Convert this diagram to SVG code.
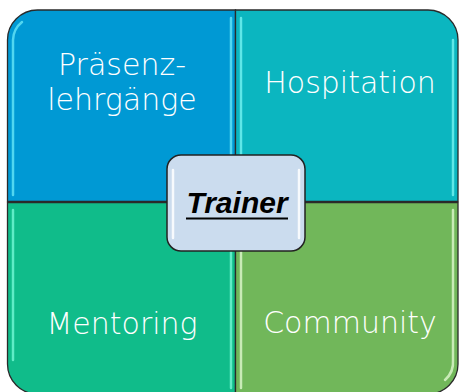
<svg xmlns="http://www.w3.org/2000/svg" width="459" height="392" viewBox="0 0 459 392">
<style>
.q{stroke:#2a2a2a;stroke-width:1.3}
.hl{fill:none;stroke-width:2.5;stroke-linecap:round;opacity:0.85}
.lbl{font-family:"DejaVu Sans","Liberation Sans",sans-serif;font-size:30px;fill:#ffffff;text-anchor:middle;font-weight:300}
.ctr{font-family:"Liberation Sans",Arial,sans-serif;font-size:30px;font-weight:bold;font-style:italic;fill:#000;text-anchor:middle}
</style>
<rect width="459" height="392" fill="#ffffff"/>
<g id="praesenz">
<path class="q" fill="#0099D4" d="M7.5,201.5 V40 A30,30 0 0 1 37.5,10 H235.5 V201.5 Z"/>
<path class="hl" stroke="#5fe0f5" d="M13,195 V40 A24,24 0 0 1 22,22"/>
<path class="hl" stroke="#5fe0f5" d="M231,18 V195"/>
<text class="lbl" x="122" y="75">Präsenz-</text>
<text class="lbl" x="122" y="110">lehrgänge</text>
</g>
<g id="hospitation">
<path class="q" fill="#0BB6C0" d="M235.5,10 H428 A30,30 0 0 1 458,40 V201.5 H235.5 Z"/>
<path class="hl" stroke="#6ff0ee" d="M241,18 V195"/>
<path class="hl" stroke="#6ff0ee" d="M453,40 V195"/>
<text class="lbl" x="350" y="93">Hospitation</text>
</g>
<g id="mentoring">
<path class="q" fill="#10BC8A" d="M7.5,202.5 H235.5 V394 H37.5 A30,30 0 0 1 7.5,364 Z"/>
<path class="hl" stroke="#6ff5d0" d="M13,210 V360"/>
<path class="hl" stroke="#6ff5d0" d="M231,210 V388"/>
<text class="lbl" x="122" y="334">Mentoring</text>
</g>
<g id="community">
<path class="q" fill="#71B75A" d="M235.5,202.5 H458 V364 A30,30 0 0 1 428,394 H235.5 Z"/>
<path class="hl" stroke="#d8f5c8" d="M241,210 V388"/>
<path class="hl" stroke="#d8f5c8" d="M453,210 V360 A24,24 0 0 1 445,380"/>
<text class="lbl" x="350" y="333">Community</text>
</g>
<g id="trainer">
<rect x="167" y="155" width="138" height="96" rx="14" fill="#CBDCEE" stroke="#222" stroke-width="1.5"/>
<path class="hl" stroke="#ffffff" d="M173,170 V238"/>
<path class="hl" stroke="#ffffff" d="M299,170 V238"/>
<text class="ctr" x="237" y="213">Trainer</text>
<line x1="186" y1="218.5" x2="288" y2="218.5" stroke="#000" stroke-width="2"/>
</g>
</svg>
